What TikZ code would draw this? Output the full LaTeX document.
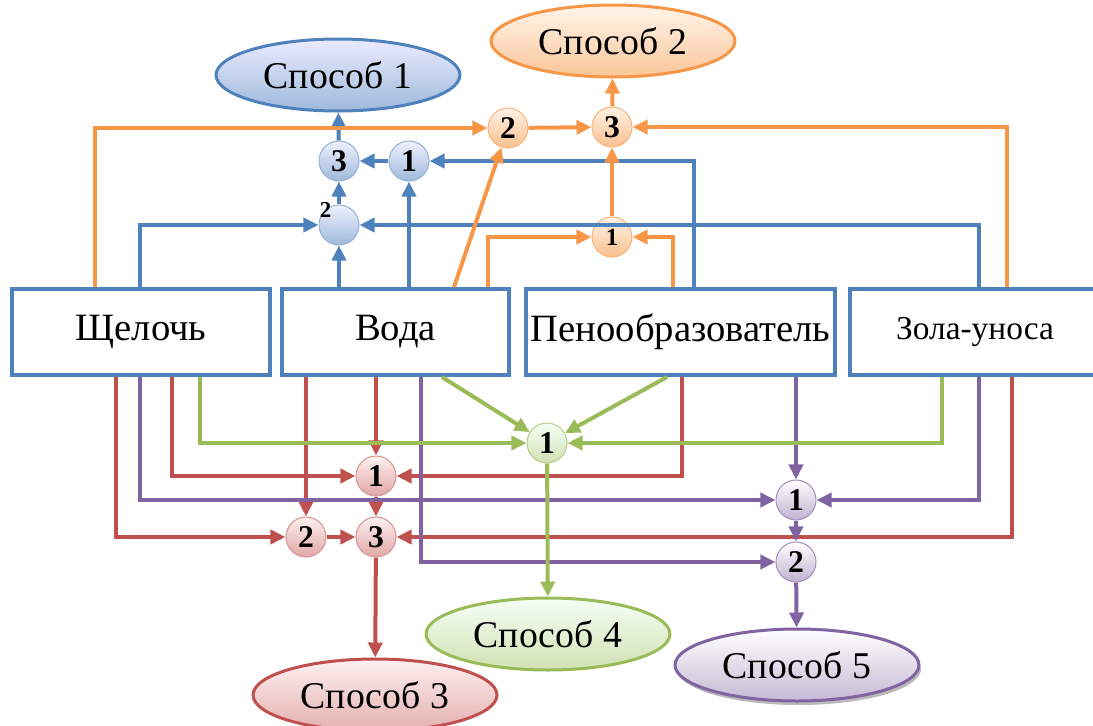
\documentclass[tikz,border=0pt]{standalone}
\usepackage{fontspec}
\setmainfont{Liberation Serif}
\usepackage{tikz}
\usetikzlibrary{
    positioning,
    arrows.meta,
    shapes.geometric,
    calc,
    shadows,
}
\definecolor{bluline}{HTML}{4F81BD}
\definecolor{orgline}{HTML}{F79646}
\definecolor{grnline}{HTML}{9BBB59}
\definecolor{redline}{HTML}{C0504D}
\definecolor{prpline}{HTML}{8064A2}
\tikzset{
    % Component boxes
    srcbox/.style={rectangle, draw=bluline, line width=0.08cm, fill=white,
                   minimum height=1.72cm, inner sep=0pt, font=\fontsize{22}{24}\selectfont},
    % Method ellipses
    method/.style={ellipse, line width=0.06cm, minimum width=4.88cm, minimum height=1.44cm,
                   inner sep=0pt, font=\fontsize{21.5}{24}\selectfont},
    % Mixing points
    mix/.style={circle, minimum size=0.8cm, inner sep=0pt, line width=0.6pt,
                font=\bfseries\fontsize{18}{18}\selectfont},
    bmix/.style={mix, draw=bluline!60, top color=blue!6, bottom color=bluline!55},
    omix/.style={mix, draw=orgline!70, top color=orange!10, bottom color=orgline!60},
    gmix/.style={mix, draw=grnline!70, top color=green!4, bottom color=grnline!45},
    rmix/.style={mix, draw=redline!60, top color=red!6, bottom color=redline!50},
    pmix/.style={mix, draw=prpline!70, top color=white, bottom color=prpline!50},
    % Arrows
    feed/.style={-{Triangle[length=0.3cm, width=0.28cm]}, line width=0.08cm},
}

\begin{document}
\begin{tikzpicture}[
    x=0.02cm, y=-0.02cm,
    blink/.style={feed, bluline},
    olink/.style={feed, orgline},
    glink/.style={feed, grnline},
    rlink/.style={feed, redline},
    plink/.style={feed, prpline},
]
    \clip (0,0) rectangle (1093,725);

    % Components
    \node[srcbox, minimum width=5.16cm] (shch) at (141,332) {Щелочь};
    \node[srcbox, minimum width=4.54cm] (voda) at (395.5,332) {Вода};
    \node[srcbox, minimum width=6.18cm] (peno) at (680.5,332) {Пенообразователь};
    \node[srcbox, minimum width=5cm, font=\fontsize{19}{22}\selectfont] (zola) at (975,332) {Зола-уноса};

    % Methods
    \node[method, draw=bluline, top color=blue!8, bottom color=bluline!55] (m1) at (338,75) {Способ 1};
    \node[method, draw=orgline, top color=orange!8, bottom color=orgline!55] (m2) at (613,41) {Способ 2};
    \node[method, draw=redline, top color=red!6, bottom color=redline!45] (m3) at (375,695) {Способ 3};
    \node[method, draw=grnline, top color=green!4, bottom color=grnline!45] (m4) at (548,634) {Способ 4};
    \node[method, draw=prpline, top color=white, bottom color=prpline!45,
          drop shadow={shadow xshift=0.04cm, shadow yshift=-0.08cm, fill=black!45, opacity=0.6}] (m5) at (797,665) {Способ 5};

    % Mixing points
    \node[bmix] (b3) at (339,161) {3};
    \node[bmix] (b1) at (409,161) {1};
    \node[bmix, label={[font=\bfseries\fontsize{13}{13}\selectfont, inner sep=0pt, label distance=-0.2cm]135:2}] (b2) at (339,225) {};
    \node[omix] (o2) at (508,128) {2};
    \node[omix] (o3) at (612,127) {3};
    \node[omix, font=\bfseries\fontsize{14}{14}\selectfont] (o1) at (612,237) {1};
    \node[gmix] (g1) at (547,443) {1};
    \node[rmix] (r1) at (376,476) {1};
    \node[rmix] (r2) at (306,537) {2};
    \node[rmix] (r3) at (376,537) {3};
    \node[pmix] (p1) at (796,500) {1};
    \node[pmix] (p2) at (796,562) {2};

    % Method 1
    \draw[blink] ($(shch.north)+(-1,0)$) |- (b2);
    \draw[blink] ($(zola.north)+(4,0)$) |- (b2);
    \draw[blink] (voda.north -| b2) -- (b2);
    \draw[blink] (voda.north -| b1) -- (b1);
    \draw[blink] ($(peno.north)+(13.5,0)$) |- (b1);
    \draw[blink] (b2) -- (b3);
    \draw[blink] (b1) -- (b3);
    \draw[blink] (b3) -- (m1);

    % Method 2
    \draw[olink] ($(shch.north)+(-46,0)$) |- (o2);
    \draw[olink] ($(voda.north)+(58.5,0)$) -- (o2);
    \draw[olink] ($(voda.north)+(92.5,0)$) |- (o1);
    \draw[olink] ($(peno.north)+(-7.5,0)$) |- (o1);
    \draw[olink] ($(zola.north)+(32,0)$) |- (o3);
    \draw[olink] (o1) -- (o3);
    \draw[olink] (o2) -- (o3);
    \draw[olink] (o3) -- (m2);

    % Method 3
    \draw[rlink] ($(shch.south)+(-25,0)$) |- (r2);
    \draw[rlink] ($(shch.south)+(31,0)$) |- (r1);
    \draw[rlink] (voda.south -| r2) -- (r2);
    \draw[rlink] (voda.south -| r1) -- (r1);
    \draw[rlink] ($(peno.south)+(1.5,0)$) |- (r1);
    \draw[rlink] ($(zola.south)+(37,0)$) |- (r3);
    \draw[rlink] (r1) -- (r3);
    \draw[rlink] (r2) -- (r3);
    \draw[rlink] (r3) -- (m3);

    % Method 5
    \draw[plink] ($(shch.south)+(-1,0)$) |- (p1);
    \draw[plink] ($(voda.south)+(25.5,0)$) |- (p2);
    \draw[plink] (peno.south -| p1) -- (p1);
    \draw[plink] ($(zola.south)+(4,0)$) |- (p1);
    \draw[plink] (p1) -- (p2);
    \draw[plink] (p2) -- (m5);

    % Method 4
    \draw[glink] ($(shch.south)+(59,0)$) |- (g1);
    \draw[glink] ($(voda.south)+(46.5,0)$) -- (g1);
    \draw[glink] ($(peno.south)+(-13.5,0)$) -- (g1);
    \draw[glink] ($(zola.south)+(-33,0)$) |- (g1);
    \draw[glink] (g1) -- (m4);
\end{tikzpicture}
\end{document}
